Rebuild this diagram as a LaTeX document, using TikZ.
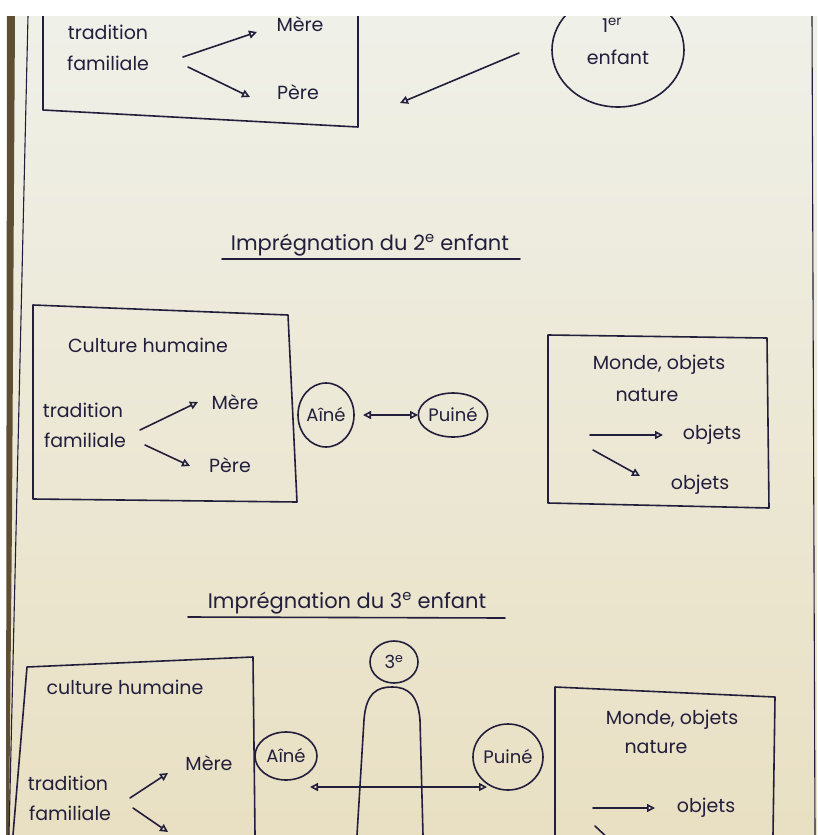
\documentclass[tikz,border=0pt]{standalone}
\usepackage{fontspec}
\setmainfont{Poppins}
\usetikzlibrary{arrows.meta, shapes.geometric}

\definecolor{ink}{HTML}{221E3C}
\definecolor{papertop}{HTML}{EFF0E8}
\definecolor{paperbot}{HTML}{E9E0C3}
\definecolor{edge}{HTML}{5E4E34}

\tikzset{
  pen/.style={draw=ink, line width=1.6pt, line join=round, line cap=round},
  arr/.style={pen, -{Triangle[open, length=8pt, width=8pt]}},
  darr/.style={pen, {Triangle[open, length=8pt, width=8pt]}-{Triangle[open, length=8pt, width=8pt]}},
  word/.style={text=ink, font=\fontsize{19}{21}\selectfont, inner sep=1pt},
  title/.style={word, font=\fontsize{21}{23}\selectfont},
  bubble/.style={pen, ellipse, inner sep=0pt, text=ink, font=\fontsize{18}{20}\selectfont},
}

\begin{document}
\begin{tikzpicture}[x=1pt, y=-1pt]
  \useasboundingbox (0,0) rectangle (817,835);
  \fill[white] (0,0) rectangle (817,835);
  \shade[top color=papertop, bottom color=paperbot] (8,16) rectangle (817,835);
  \fill[edge] (7,16) -- (15,16) -- (12,520) -- (9,835) -- (6,835) -- cycle;

  \begin{scope}
    \clip (8,16) rectangle (817,835);
    % margins of the sheet
    \draw[pen, line width=1.1pt] (28,16) -- (9,835);
    \draw[pen, line width=1.1pt] (812,16) -- (815,835);

    % first child
    \draw[pen] (43,16) -- (43,110) -- (358,127) -- (358,16);
    \node[word] (trad1) at (108,32) {tradition};
    \node[word] (fam1) at (108,63) {familiale};
    \node[word] (mere1) at (300,24) {Mère};
    \node[word] (pere1) at (298,92) {Père};
    \draw[arr] ([shift={(75,-6)}]fam1.center) -- ([shift={(-43,8)}]mere1.center);
    \draw[arr] ([shift={(80,4)}]fam1.center) -- ([shift={(-48,5)}]pere1.center);

    \node[bubble, minimum width=132pt, minimum height=114pt] (enf1) at (618,50) {};
    \node[word, anchor=base] (one1) at (612,32) {1\textsuperscript{er}};
    \node[word] (word1) at (618,57) {enfant};
    \coordinate (tip1) at (400,103);
    \draw[arr] ([shift={(-99,3)}]enf1.center) -- (tip1);

    % second child
    \node[title] (t2) at (370,245) {Imprégnation du 2\textsuperscript{e} enfant};
    \draw[pen] ([shift={(-148,14)}]t2.center) -- ([shift={(150,14)}]t2.center);

    \draw[pen] (33,305) -- (288,315) -- (297,502) -- (33,499) -- cycle;
    \node[word] (cult2) at (148,345) {Culture humaine};
    \node[word] (trad2) at (83,410) {tradition};
    \node[word] (fam2) at (85,440) {familiale};
    \node[word] (mere2) at (235,402) {Mère};
    \node[word] (pere2) at (230,465) {Père};
    \draw[arr] ([shift={(55,-10)}]fam2.center) -- ([shift={(-37,0)}]mere2.center);
    \draw[arr] ([shift={(60,5)}]fam2.center) -- ([shift={(-40,1)}]pere2.center);

    \node[bubble, minimum width=56pt, minimum height=64pt] (aine2) at (326,415) {Aîné};
    \node[bubble, minimum width=66pt, minimum height=44pt] (puine2) at (453,415) {Puiné};
    \draw[darr] ([shift={(37,0)}]aine2.center) -- ([shift={(-35,0)}]puine2.center);

    \draw[pen] (548,335) -- (767,338) -- (769,508) -- (548,503) -- cycle;
    \node[word] (monde2) at (659,365) {Monde, objets};
    \node[word] (nat2) at (647,395) {nature};
    \node[word] (obj2a) at (712,435) {objets};
    \node[word] (obj2b) at (700,485) {objets};
    \draw[arr] ([shift={(-57,40)}]nat2.center) -- ([shift={(-49,0)}]obj2a.center);
    \draw[arr] ([shift={(-54,55)}]nat2.center) -- ([shift={(-60,-9)}]obj2b.center);

    % third child
    \node[title] (t3) at (347,603) {Imprégnation du 3\textsuperscript{e} enfant};
    \draw[pen] ([shift={(-159,14)}]t3.center) -- ([shift={(158,15)}]t3.center);

    \draw[pen] (13,835) -- (27,667) -- (253,657) -- (255,835);
    \node[word] (cult3) at (125,687) {culture humaine};
    \node[word] (mere3) at (209,763) {Mère};
    \node[word] (trad3) at (68,783) {tradition};
    \node[word] (fam3) at (70,813) {familiale};
    \node[word] (pere3) at (210,843) {Père};
    \draw[arr] ([shift={(60,-15)}]fam3.center) -- ([shift={(-41,10)}]mere3.center);
    \draw[arr] ([shift={(63,-5)}]fam3.center) -- ([shift={(-42,-11)}]pere3.center);

    \node[bubble, minimum width=48pt, minimum height=42pt] (third3) at (394,662) {3\textsuperscript{e}};
    \draw[pen] (357,835) -- (364,720) .. controls (366,692) and (378,687) .. (392,687)
      .. controls (408,687) and (418,695) .. (420,720) -- (423,835);

    \node[bubble, minimum width=62pt, minimum height=48pt] (aine3) at (286,756) {Aîné};
    \node[bubble, minimum width=70pt, minimum height=66pt] (puine3) at (508,757) {Puiné};
    \draw[darr] ([shift={(24,31)}]aine3.center) -- ([shift={(-21,30)}]puine3.center);

    \draw[pen] (555,835) -- (555,687) -- (775,697) -- (773,835);
    \node[word] (monde3) at (672,720) {Monde, objets};
    \node[word] (nat3) at (656,747) {nature};
    \node[word] (obj3) at (706,808) {objets};
    \draw[arr] ([shift={(-113,0)}]obj3.center) -- ([shift={(-51,0)}]obj3.center);
    \coordinate (cut3) at (612,842);
    \draw[pen] ([shift={(-111,18)}]obj3.center) -- (cut3);
  \end{scope}
\end{tikzpicture}
\end{document}
